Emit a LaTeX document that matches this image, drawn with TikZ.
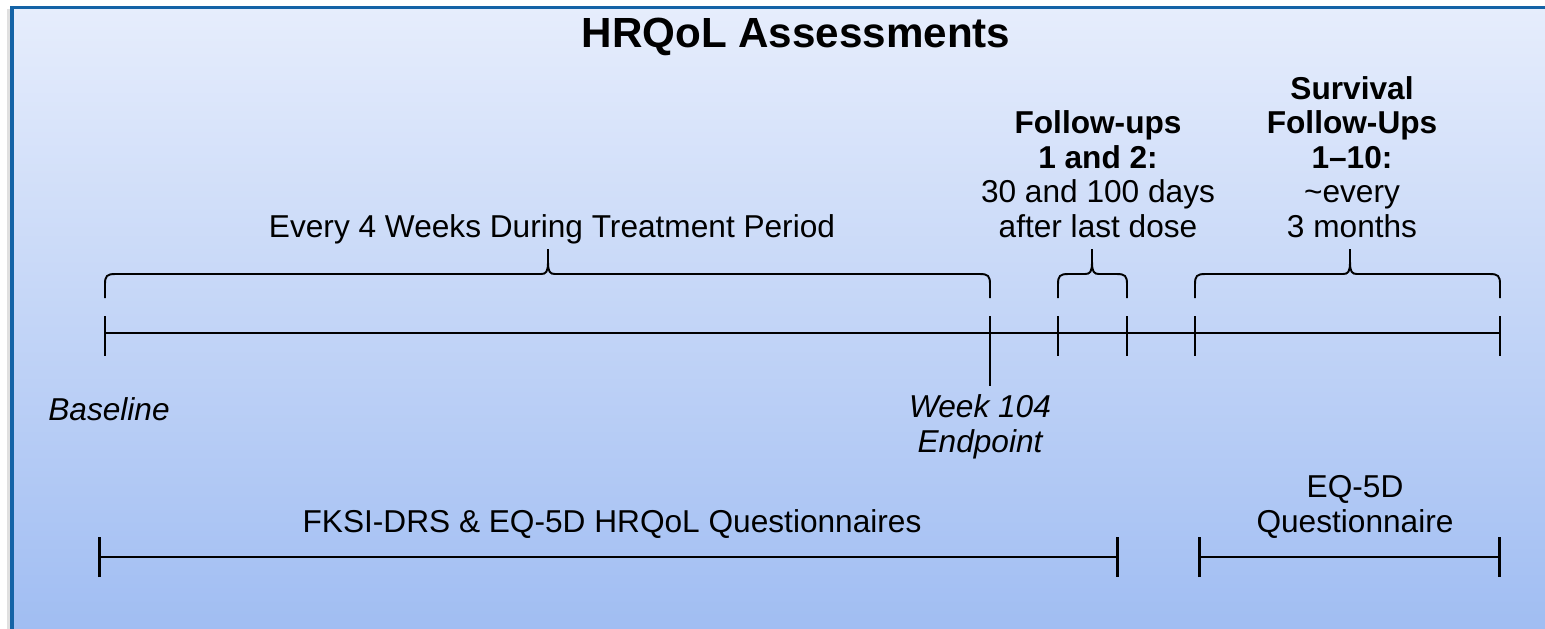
\documentclass[tikz,border=0pt]{standalone}
\usepackage{fontspec}
\setmainfont{Liberation Sans}
\usetikzlibrary{arrows.meta,positioning}
\definecolor{cFrame}{HTML}{1463A6}
\definecolor{cTop}{HTML}{E6EDFC}
\definecolor{cBottom}{HTML}{A0BDF2}
\newcommand{\bodyfont}{\fontsize{9}{9.8}\selectfont}
% curly bracket over the time line: left x, right x, tip x
\newcommand{\tlbrace}[3]{%
  \draw[brc] (#1,2.98) -- (#1,2.84) .. controls (#1,2.76) and (#1+0.02,2.74) .. (#1+0.10,2.74)
    -- (#3-0.07,2.74) .. controls (#3-0.02,2.74) and (#3,2.72) .. (#3,2.62) -- (#3,2.49)
    (#3,2.62) .. controls (#3,2.72) and (#3+0.02,2.74) .. (#3+0.07,2.74)
    -- (#2-0.10,2.74) .. controls (#2-0.02,2.74) and (#2,2.76) .. (#2,2.84) -- (#2,2.98);}
\tikzset{
  tline/.style={line width=0.75pt, line cap=butt},
  brc/.style  ={line width=0.55pt, line join=round},
  span/.style ={line width=0.75pt, {Bar[width=4mm,line width=0.75pt]}-{Bar[width=4mm,line width=0.75pt]}},
  lbl/.style  ={font=\bodyfont, align=center, inner sep=0pt, anchor=base},
  lbli/.style ={lbl, font=\bodyfont\itshape},
}

\begin{document}
\begin{tikzpicture}[y=-1cm]
  \useasboundingbox (0,0) rectangle (15.45,6.28);
  \clip (0,0) rectangle (15.45,6.28);
  % panel
  \fill[black!12] (0.07,0.09) rectangle (15.60,6.40);
  \shade[top color=cTop, bottom color=cBottom, draw=cFrame, line width=0.9pt]
    (0.12,0.075) rectangle (15.60,6.33);
  \node[lbl, font=\fontsize{12}{14}\selectfont\bfseries] (title) at (7.96,0.47) {HRQoL Assessments};

  % time line
  \coordinate (base) at (1.05,3.33);
  \coordinate (wk)   at (9.90,3.33);
  \coordinate (fu1)  at (10.58,3.33);
  \coordinate (fu2)  at (11.27,3.33);
  \coordinate (sv1)  at (11.95,3.33);
  \coordinate (sv2)  at (15.00,3.33);
  \draw[tline] (base) -- (sv2);
  \foreach \p in {base,fu1,fu2,sv1,sv2}
    \draw[tline] (\p) ++(0,-0.17) -- ++(0,0.40);
  \draw[tline] (wk) ++(0,-0.17) -- ++(0,0.70);

  % brackets and what they stand for
  \tlbrace{1.05}{9.90}{5.48}
  \tlbrace{10.58}{11.27}{10.92}
  \tlbrace{11.95}{15.00}{13.50}
  \node[lbl] (treat) at (5.52,2.37) {Every 4 Weeks During Treatment Period};
  \node[lbl] (fups) at (10.98,2.37)
    {\textbf{Follow-ups}\\\textbf{1 and 2:}\\30 and 100 days\\after last dose};
  \node[lbl] (surv) at (13.52,2.37)
    {\textbf{Survival}\\\textbf{Follow-Ups}\\\textbf{1--10:}\\\textasciitilde every\\3 months};

  \node[lbli] (bl) at (1.09,4.20) {Baseline};
  \node[lbli] (endp) at (9.80,4.52) {Week 104\\Endpoint};

  % questionnaire periods
  \coordinate (q1a) at (0.98,5.57);
  \coordinate (q1b) at (11.19,5.57);
  \coordinate (q2a) at (11.98,5.57);
  \coordinate (q2b) at (15.01,5.57);
  \draw[span] (q1a) -- (q1b);
  \draw[span] (q2a) -- (q2b);
  \node[lbl] (fksi) at (6.12,5.32) {FKSI-DRS \& EQ-5D HRQoL Questionnaires};
  \node[lbl] (eq) at (13.55,5.32) {EQ-5D\\Questionnaire};
\end{tikzpicture}
\end{document}
